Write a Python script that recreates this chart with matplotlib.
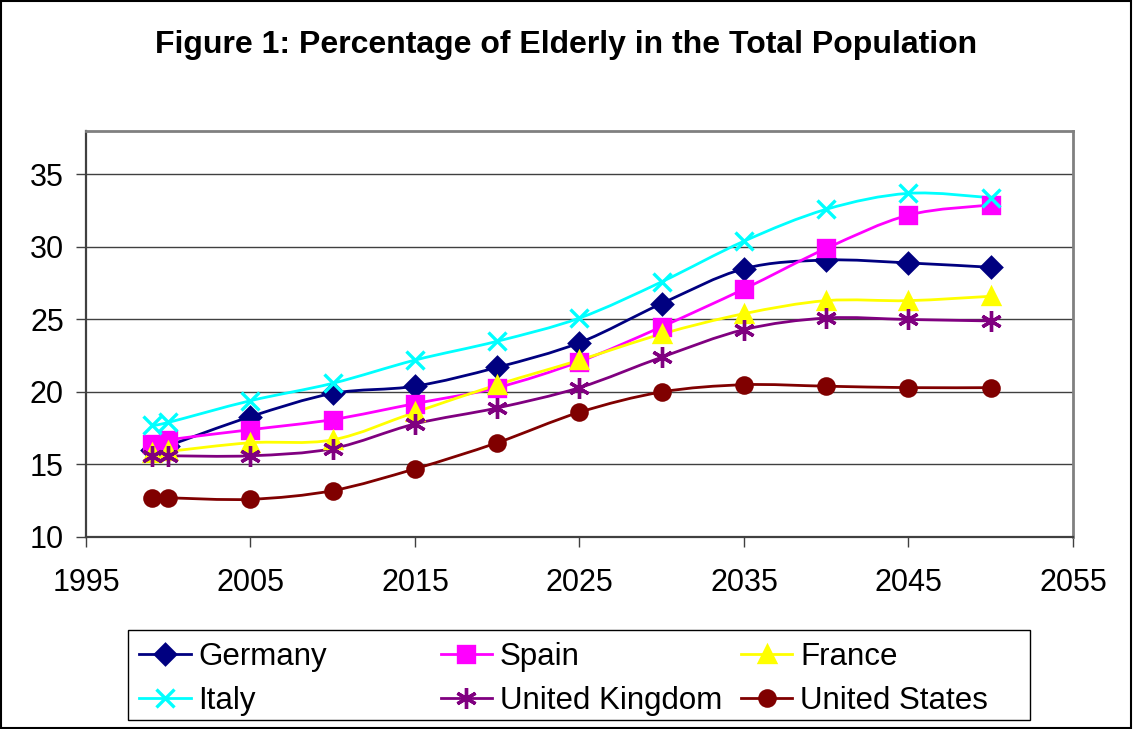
import matplotlib
matplotlib.use("Agg")
import matplotlib.pyplot as plt
import numpy as np
from matplotlib.path import Path
from matplotlib.patches import PathPatch, Rectangle
from matplotlib.lines import Line2D

plt.rcParams['font.family'] = ['Liberation Sans', 'DejaVu Sans']

# datos
years = [1999, 2000, 2005, 2010, 2015, 2020, 2025, 2030, 2035, 2040, 2045, 2050]
germany = [16.0, 16.3, 18.3, 19.9, 20.4, 21.7, 23.4, 26.1, 28.5, 29.1, 28.9, 28.6]
spain = [16.4, 16.7, 17.4, 18.1, 19.2, 20.3, 22.1, 24.5, 27.1, 29.9, 32.2, 32.9]
france = [15.8, 15.9, 16.5, 16.7, 18.6, 20.5, 22.2, 24.0, 25.4, 26.3, 26.3, 26.6]
italy = [17.7, 17.9, 19.4, 20.6, 22.2, 23.5, 25.1, 27.6, 30.4, 32.6, 33.7, 33.4]
uk = [15.6, 15.6, 15.6, 16.1, 17.8, 18.9, 20.3, 22.4, 24.3, 25.1, 25.0, 24.9]
us = [12.7, 12.7, 12.6, 13.2, 14.7, 16.5, 18.6, 20.0, 20.5, 20.4, 20.3, 20.3]

names = ['Germany', 'Spain', 'France', 'Italy', 'United Kingdom', 'United States']
series = [germany, spain, france, italy, uk, us]
colors = ['#000080', '#FF00FF', '#FFFF00', '#00FFFF', '#800080', '#800000']
markers = ['D', 's', '^', 'x', (6, 2, 0), 'o']
msizes = [10, 11, 12, 13, 15, 11]


def smooth_path(x, y):
    # curva suave tipo Excel (Catmull-Rom -> Bezier)
    p = np.column_stack([x, y]).astype(float)
    pts = np.vstack([p[0], p, p[-1]])
    verts = [p[0]]
    codes = [Path.MOVETO]
    for i in range(1, len(pts) - 2):
        c1 = pts[i] + (pts[i + 1] - pts[i - 1]) / 6
        c2 = pts[i + 1] - (pts[i + 2] - pts[i]) / 6
        verts += [c1, c2, pts[i + 1]]
        codes += [Path.CURVE4] * 3
    return Path(verts, codes)


fig = plt.figure(figsize=(11.33, 7.29), dpi=100)
ax = fig.add_axes([0.0759, 0.2634, 0.8711, 0.5569])

handles = []
for name, vals, c, m, ms in zip(names, series, colors, markers, msizes):
    ax.add_patch(PathPatch(smooth_path(years, vals), facecolor='none',
                           edgecolor=c, lw=2, zorder=3))
    ax.plot(years, vals, linestyle='none', marker=m, ms=ms, color=c,
            mec=c, mew=2.4, zorder=4)
    handles.append(Line2D([], [], color=c, lw=2, marker=m, ms=ms, mec=c, mew=2.4))

ax.set_xlim(1995, 2055)
ax.set_ylim(10, 38)
ax.set_xticks(range(1995, 2056, 10))
ax.set_yticks(range(10, 36, 5))
ax.yaxis.grid(True, color='#404040', lw=1)
ax.set_axisbelow(True)
ax.tick_params(axis='both', labelsize=22, direction='out', length=7, width=1, color='#404040')
ax.tick_params(axis='x', pad=15)
ax.tick_params(axis='y', pad=9)
for s in ['left', 'bottom']:
    ax.spines[s].set_color('#404040')
    ax.spines[s].set_linewidth(1.6)
for s in ['top', 'right']:
    ax.spines[s].set_color('#808080')
    ax.spines[s].set_linewidth(2)

fig.text(0.5, 0.938, 'Figure 1: Percentage of Elderly in the Total Population',
         ha='center', va='center', fontsize=23, fontweight='bold')

# leyenda en tres columnas de igual ancho
col_x = [0.109, 0.375, 0.640]
for k in range(3):
    idx = [k, k + 3]
    fig.legend([handles[i] for i in idx], [names[i] for i in idx],
               loc='center left', bbox_to_anchor=(col_x[k], 0.069),
               frameon=False, fontsize=22.5, handlelength=1.65,
               handletextpad=0.25, labelspacing=0.45, borderpad=0)
fig.add_artist(Rectangle((128 / 1133, 1 - 720 / 729), 902 / 1133, 90 / 729,
                         transform=fig.transFigure, fill=False, ec='black', lw=1))
fig.add_artist(Rectangle((0.001, 0.001), 0.997, 0.997, transform=fig.transFigure,
                         fill=False, ec='black', lw=1.5))

fig.savefig('out.png', dpi=100)
